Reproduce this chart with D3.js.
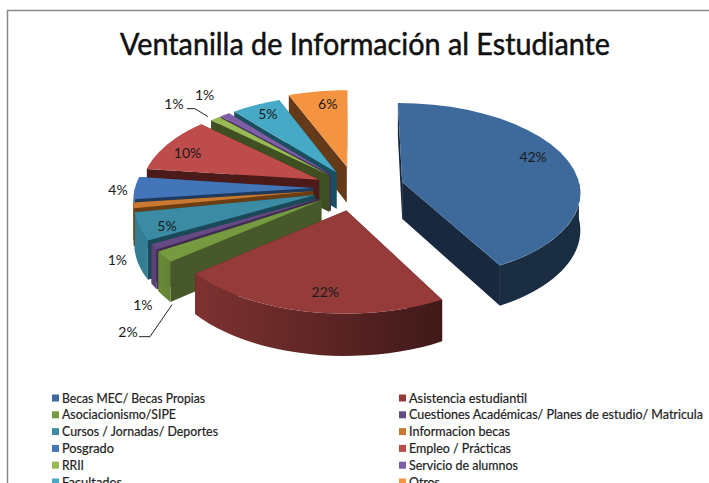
<!DOCTYPE html>
<html>
<head>
<meta charset="utf-8">
<script src="https://cdn.jsdelivr.net/npm/d3@7"></script>
<style>
  html, body { margin: 0; background: #fff; }
  svg { display: block; font-family: Lato, "Open Sans", sans-serif; }
</style>
</head>
<body>
<svg width="709" height="483"></svg>
<script>
const title = "Ventanilla de Información al Estudiante";
const categories = [
  "Becas MEC/ Becas Propias", "Asistencia estudiantil", "Asociacionismo/SIPE",
  "Cuestiones Académicas/ Planes de estudio/ Matricula", "Cursos / Jornadas/ Deportes",
  "Informacion becas", "Posgrado", "Empleo / Prácticas", "RRII",
  "Servicio de alumnos", "Facultades", "Otros"
];
const values = [42, 22, 2, 1, 5, 1, 4, 10, 1, 1, 5, 6];

// top face, then the dark radial wall
const topColors = ["#3e6a9b", "#953b3a", "#769a3f", "#664a84", "#3a8ba3", "#c97a30",
                   "#4376b8", "#bd4c4a", "#98b954", "#7e5fa5", "#46a9c6", "#f59440"];
const wallColors = ["#17283f", "#451818", "#47592a", "#3d2c50", "#1a4a58", "#6b3d12",
                    "#1f3a5c", "#4d1a1a", "#3e4f22", "#45305f", "#1a4f60", "#653a18"];

// layout of the 3d pie
const cx = 355, cy = 188;
const R = 178, squash = 0.495, persp = 0.1, depth = 37;
const explode = [49, 45, 41, 41, 42, 42, 42, 40, 37, 37, 37, 45];
// label shift from the middle of the rim, px
const labelNudge = [[-35, -4], [18, -20], [-36, 75], [-11, 58], [28, -1], [-16, 54],
                    [-17, 1], [20, 8], [-41, -15], [-20, -20], [12, 8], [10, 12]];
const leaders = {
  2: [[11, 5], [22, 5], [44, -27]],
  8: [[13, 5], [21, 5], [34, 13]]
};
// legend text widths, px
const legendWidths = [143, 118, 114, 294, 156, 101, 52, 102, 22, 109, 60, 31];

var svg = d3.select("svg");

// frame of the chart area
svg.append("path")
  .attr("d", "M7.5,483V10.5H709")
  .attr("fill", "none")
  .attr("stroke", "#8a8a8a")
  .attr("stroke-width", 1.5);

svg.append("text")
  .attr("x", 365)
  .attr("y", 55)
  .attr("text-anchor", "middle")
  .attr("font-size", 30)
  .attr("textLength", 490)
  .attr("lengthAdjust", "spacingAndGlyphs")
  .attr("fill", "#111")
  .attr("stroke", "#111")
  .attr("stroke-width", 0.5)
  .text(title);

var pie = d3.pie().sort(null);
var slices = pie(values);

function project(wx, wy, z) {
  var s = 1 / (1 - persp * wy / R);
  return [cx + wx * s, cy + (squash * wy + z) * s];
}

slices.forEach(function (d, i) {
  d.index = i;
  d.mid = (d.startAngle + d.endAngle) / 2;
  d.ax = explode[i] * Math.sin(d.mid);
  d.ay = -explode[i] * Math.cos(d.mid);
});

function rimPoint(d, a, z) {
  return project(d.ax + R * Math.sin(a), d.ay - R * Math.cos(a), z);
}

function arcPoints(d, a0, a1, z) {
  return d3.range(0, 25).map(function (k) {
    return rimPoint(d, a0 + (a1 - a0) * k / 24, z);
  });
}

var line = d3.line();
var defs = svg.append("defs");

// outer wall gets lighter towards the left of the pie
var wallShade = d3.scaleLinear()
  .domain([150, 240])
  .range([0.42, 0.9])
  .clamp(true);

var deg = 180 / Math.PI;

// back slices first
var order = slices.slice().sort(function (a, b) {
  return -Math.cos(a.mid) - -Math.cos(b.mid);
});

var pieG = svg.append("g");

order.forEach(function (d) {
  var i = d.index;
  var g = pieG.append("g");
  var apexTop = project(d.ax, d.ay, 0);
  var apexBot = project(d.ax, d.ay, depth);

  // radial walls
  [d.startAngle, d.endAngle].forEach(function (a) {
    g.append("path")
      .attr("d", line([apexTop, rimPoint(d, a, 0), rimPoint(d, a, depth), apexBot]) + "Z")
      .attr("fill", wallColors[i]);
  });

  // outer wall, front part only
  var a0 = Math.max(d.startAngle, Math.PI / 2);
  var a1 = Math.min(d.endAngle, Math.PI * 1.5);
  if (a1 > a0) {
    var p0 = rimPoint(d, a0, 0), p1 = rimPoint(d, a1, 0);
    var grad = defs.append("linearGradient")
      .attr("id", "wall" + i)
      .attr("gradientUnits", "userSpaceOnUse")
      .attr("x1", p0[0]).attr("y1", 0)
      .attr("x2", p1[0]).attr("y2", 0);
    [[0, a0], [1, a1]].forEach(function (st) {
      var c = d3.rgb(topColors[i]);
      var t = wallShade(st[1] * deg);
      grad.append("stop")
        .attr("offset", st[0])
        .attr("stop-color", d3.rgb(c.r * t, c.g * t, c.b * t).formatHex());
    });
    var wall = arcPoints(d, a0, a1, 0).concat(arcPoints(d, a0, a1, depth).reverse());
    g.append("path")
      .attr("d", line(wall) + "Z")
      .attr("fill", "url(#wall" + i + ")");
  }

  // top face
  var face = [apexTop].concat(arcPoints(d, d.startAngle, d.endAngle, 0));
  g.append("path")
    .attr("d", line(face) + "Z")
    .attr("fill", topColors[i]);
});

// percent labels
svg.append("g")
  .selectAll("text")
  .data(slices)
  .join("text")
  .attr("text-anchor", "middle")
  .attr("dominant-baseline", "central")
  .attr("font-size", 14)
  .attr("fill", "#1a1a1a")
  .attr("transform", function (d) {
    var p = rimPoint(d, d.mid, 0);
    d.lx = p[0] + labelNudge[d.index][0];
    d.ly = p[1] + labelNudge[d.index][1];
    return "translate(" + d.lx + "," + d.ly + ")";
  })
  .text(function (d) { return d.value + "%"; });

// leader lines
slices.forEach(function (d) {
  if (!leaders[d.index]) return;
  var pts = leaders[d.index].map(function (q) { return [d.lx + q[0], d.ly + q[1]]; });
  svg.append("path")
    .attr("d", line(pts))
    .attr("fill", "none")
    .attr("stroke", "#222")
    .attr("stroke-width", 1);
});

// legend, two columns, last row runs off the bottom
var legendX = d3.scalePoint().domain([0, 1]).range([52, 399]);
var legendY = d3.scaleLinear().domain([0, 5]).range([398, 482]);

var items = svg.append("g")
  .selectAll("g")
  .data(categories)
  .join("g")
  .attr("transform", function (d, i) {
    return "translate(" + legendX(i % 2) + "," + legendY(Math.floor(i / 2)) + ")";
  });

items.append("rect")
  .attr("x", 0)
  .attr("y", -3.5)
  .attr("width", 7)
  .attr("height", 7)
  .attr("fill", function (d, i) { return topColors[i]; });

items.append("text")
  .attr("x", 10)
  .attr("dominant-baseline", "central")
  .attr("font-size", 12.5)
  .attr("textLength", function (d, i) { return legendWidths[i]; })
  .attr("lengthAdjust", "spacingAndGlyphs")
  .attr("fill", "#222")
  .attr("stroke", "#222")
  .attr("stroke-width", 0.2)
  .text(function (d) { return d; });
</script>
</body>
</html>
